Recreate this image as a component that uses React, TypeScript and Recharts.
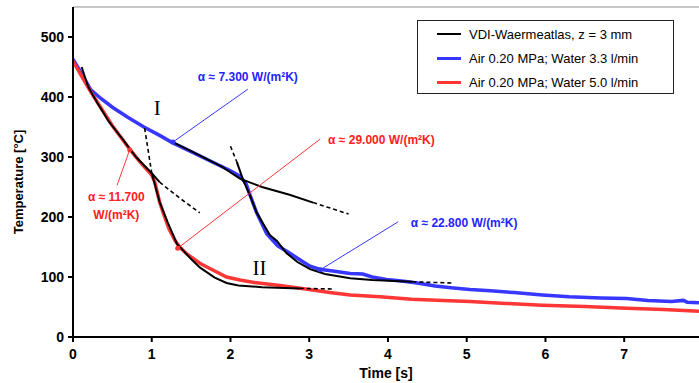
import React from 'react';
import { LineChart, Line, XAxis, YAxis, ReferenceLine, ReferenceDot } from 'recharts';

// ---- data (time [s], temperature [°C]) ----
const blueT = [0, 0.1, 0.22, 0.35, 0.5, 0.7, 0.9, 1.1, 1.26, 1.5, 1.75, 2.0, 2.12, 2.2, 2.25, 2.33, 2.46, 2.6, 2.75, 2.9, 3.01, 3.13, 3.3, 3.52, 3.68, 3.8, 3.98, 4.2, 4.37, 4.6, 4.8, 5.04, 5.3, 5.6, 5.96, 6.3, 6.7, 7.03, 7.3, 7.6, 7.75, 7.8, 7.95];
const blueV = [463, 441, 413, 398, 383, 366, 350, 336, 324, 309, 293, 277, 268, 255, 236, 208, 172, 152, 140, 127, 118, 113, 110, 106, 105, 100, 96, 93, 90, 85, 82, 79, 77, 74, 70, 67, 65, 64, 61, 59, 61, 58, 57];

const redT = [0, 0.1, 0.22, 0.35, 0.5, 0.72, 0.85, 1.0, 1.04, 1.1, 1.15, 1.22, 1.3, 1.36, 1.45, 1.61, 1.8, 1.95, 2.12, 2.3, 2.63, 3.0, 3.26, 3.52, 3.9, 4.3, 4.7, 5.04, 5.5, 5.96, 6.5, 7.03, 7.5, 7.95];
const redV = [460, 437, 410, 383, 352, 313, 292, 270, 258, 225, 205, 180, 160, 149, 138, 123, 110, 100, 95, 91, 86, 79, 74, 70, 67, 63, 61, 59, 56, 53, 51, 48, 46, 43];

// VDI-Waermeatlas model curves (solid parts and dashed extensions)
const vdi1T = [0.11, 0.19, 0.3, 0.45, 0.64, 0.8, 1.0, 1.1];
const vdi1V = [450, 418, 392, 360, 328, 300, 273, 258];
const vdi1dT = [1.1, 1.35, 1.61];
const vdi1dV = [258, 232, 207];

const vdi2dT = [0.91, 1.0];
const vdi2dV = [348, 273];
const vdi2T = [1.0, 1.1, 1.2, 1.32, 1.5, 1.61, 1.8, 1.95, 2.1, 2.4, 2.88];
const vdi2V = [273, 225, 192, 155, 130, 116, 99, 90, 86, 83, 81];
const vdi2d2T = [2.88, 3.3];
const vdi2d2V = [81, 80];

const vdi3T = [1.25, 1.6, 1.9, 2.12, 2.4, 2.75, 3.05];
const vdi3V = [326, 303, 283, 264, 250, 237, 224];
const vdi3dT = [3.05, 3.5];
const vdi3dV = [224, 205];

const vdi4dT = [2.0, 2.08];
const vdi4dV = [318, 292];
const vdi4T = [2.08, 2.16, 2.25, 2.33, 2.5, 2.59, 2.71, 2.85, 3.01, 3.2, 3.52, 3.8, 4.31];
const vdi4V = [292, 262, 235, 208, 170, 160, 140, 125, 113, 105, 98, 95, 92];
const vdi4d2T = [4.31, 4.81];
const vdi4d2V = [92, 90];

const xTicks = [0, 1, 2, 3, 4, 5, 6, 7];
const yTicks = [0, 100, 200, 300, 400, 500];

const legendLabels = ['VDI-Waermeatlas, z = 3 mm', 'Air 0.20 MPa; Water 3.3 l/min', 'Air 0.20 MPa; Water 5.0 l/min'];

const toPts = (t: number[], v: number[]) => t.map((x, i) => ({ t: x, v: v[i] }));

const BLUE = '#3737ff';
const RED = '#ff3636';
const BLUE_TXT = '#2424ff';
const RED_TXT = '#ff2020';
const FONT = '"Liberation Sans", Arial, sans-serif';

const seriesColors = ['#000000', BLUE, RED];

type Ann = { t: number; v: number; text: string; color: string; anchor?: string; serif?: boolean };
const annotations: Ann[] = [
  { t: 2.22, v: 433, text: 'α ≈ 7.300 W/(m²K)', color: BLUE_TXT },
  { t: 3.24, v: 328, text: 'α ≈ 29.000 W/(m²K)', color: RED_TXT, anchor: 'start' },
  { t: 0.55, v: 233, text: 'α ≈ 11.700', color: RED_TXT },
  { t: 0.55, v: 203, text: 'W/(m²K)', color: RED_TXT },
  { t: 4.29, v: 190, text: 'α ≈ 22.800 W/(m²K)', color: BLUE_TXT, anchor: 'start' },
  { t: 1.07, v: 382, text: 'I', color: '#000', serif: true },
  { t: 2.37, v: 115, text: 'II', color: '#000', serif: true },
];

type Leader = { t1: number; v1: number; t2: number; v2: number; color: string };
const leaders: Leader[] = [
  { t1: 2.22, v1: 413, t2: 1.27, v2: 325, color: BLUE },
  { t1: 3.14, v1: 330, t2: 1.33, v2: 148, color: RED },
  { t1: 0.56, v1: 253, t2: 0.72, v2: 312, color: RED },
  { t1: 4.13, v1: 192, t2: 3.14, v2: 112, color: BLUE },
];

const Legend = () => (
  <div
    style={{
      position: 'absolute',
      left: 417,
      top: 20,
      width: 255,
      height: 72,
      border: '1px solid #222',
      background: '#fff',
      fontFamily: FONT,
      fontSize: 13,
      color: '#000',
    }}
  >
    {legendLabels.map((lab, i) => (
      <div key={lab} style={{ position: 'absolute', left: 0, top: 4 + i * 24, height: 18, display: 'flex', alignItems: 'center', whiteSpace: 'nowrap' }}>
        <div style={{ marginLeft: 19, width: 24, height: i === 0 ? 2 : 3, background: seriesColors[i] }} />
        <span style={{ marginLeft: 8 }}>{lab}</span>
      </div>
    ))}
  </div>
);

export default function App() {
  const solid = (t: number[], v: number[], key: string) => (
    <Line key={key} data={toPts(t, v)} dataKey="v" type="linear" stroke="#000" strokeWidth={2} dot={false} isAnimationActive={false} legendType="none" />
  );
  const dashed = (t: number[], v: number[], key: string) => (
    <Line key={key} data={toPts(t, v)} dataKey="v" type="linear" stroke="#000" strokeWidth={1.6} strokeDasharray="4 3" dot={false} isAnimationActive={false} legendType="none" />
  );
  return (
    <div style={{ position: 'absolute', left: 0, top: 0, width: 699, height: 383, background: '#fff' }}>
      <LineChart width={699} height={383} margin={{ top: 7, right: 0, bottom: 0, left: 0 }}>
        <XAxis
          type="number"
          dataKey="t"
          domain={[0, 7.95]}
          ticks={xTicks}
          allowDataOverflow
          height={46}
          axisLine={{ stroke: '#000', strokeWidth: 2 }}
          tickLine={{ stroke: '#000', strokeWidth: 2 }}
          tickSize={5}
          tickMargin={7}
          tick={{ fill: '#000', fontSize: 14, fontWeight: 'bold', fontFamily: FONT }}
          label={{ value: 'Time [s]', position: 'insideBottom', offset: 5, fill: '#000', fontSize: 14, fontWeight: 'bold', fontFamily: FONT }}
        />
        <YAxis
          type="number"
          domain={[0, 550]}
          ticks={yTicks}
          allowDataOverflow
          width={73}
          axisLine={{ stroke: '#000', strokeWidth: 2 }}
          tickLine={{ stroke: '#000', strokeWidth: 2 }}
          tickSize={5}
          tickMargin={4}
          tick={{ fill: '#000', fontSize: 14, fontWeight: 'bold', fontFamily: FONT }}
          label={() => (
            <text x={18} y={182} transform="rotate(-90 18 182)" textAnchor="middle" dominantBaseline="central" fill="#000" fontSize={13} fontWeight="bold" fontFamily={FONT}>
              Temperature [°C]
            </text>
          )}
        />
        <ReferenceLine y={550} stroke="#b4b4b4" strokeWidth={1.5} />
        <Line data={toPts(blueT, blueV)} dataKey="v" name={legendLabels[1]} type="linear" stroke={BLUE} strokeWidth={3.5} dot={false} isAnimationActive={false} />
        <Line data={toPts(redT, redV)} dataKey="v" name={legendLabels[2]} type="linear" stroke={RED} strokeWidth={3.5} dot={false} isAnimationActive={false} />
        {solid(vdi1T, vdi1V, 'a')}
        {dashed(vdi1dT, vdi1dV, 'ad')}
        {dashed(vdi2dT, vdi2dV, 'bd')}
        {solid(vdi2T, vdi2V, 'b')}
        {dashed(vdi2d2T, vdi2d2V, 'bd2')}
        {solid(vdi3T, vdi3V, 'c')}
        {dashed(vdi3dT, vdi3dV, 'cd')}
        {dashed(vdi4dT, vdi4dV, 'dd')}
        {solid(vdi4T, vdi4V, 'd')}
        {dashed(vdi4d2T, vdi4d2V, 'dd2')}
        {leaders.map((l, i) => (
          <ReferenceLine key={'l' + i} segment={[{ x: l.t1, y: l.v1 }, { x: l.t2, y: l.v2 }]} stroke={l.color} strokeWidth={1} />
        ))}
        {leaders.map((l, i) => (
          <ReferenceDot key={'p' + i} x={l.t2} y={l.v2} r={2.5} fill={l.color} stroke="none" />
        ))}
        {annotations.map((a, i) => (
          <ReferenceDot
            key={'a' + i}
            x={a.t}
            y={a.v}
            r={0}
            shape={(p: any) => (
              <text
                x={p.cx}
                y={p.cy}
                textAnchor={a.anchor || 'middle'}
                dominantBaseline="central"
                fill={a.color}
                fontSize={a.serif ? 21 : 12}
                fontWeight={a.serif ? 'normal' : 'bold'}
                fontFamily={a.serif ? '"Liberation Serif", "Times New Roman", serif' : FONT}
              >
                {a.text}
              </text>
            )}
          />
        ))}
      </LineChart>
      <Legend />
    </div>
  );
}
